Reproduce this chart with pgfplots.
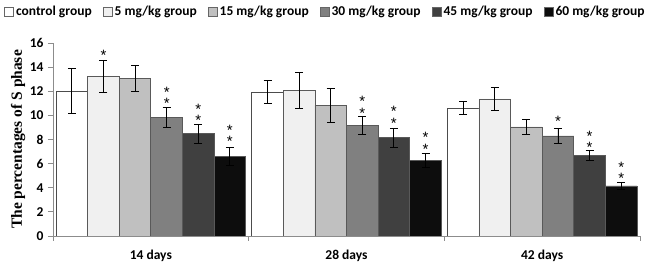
\documentclass[border=0pt]{standalone}
\usepackage{fontspec}
\setmainfont{Carlito}
\newfontfamily\ylabfont{Liberation Serif}
\newfontfamily\starfont{Liberation Sans}
\usepackage{pgfplots}
\pgfplotsset{compat=1.18}
\usepackage{pgfplotstable}

\pgfplotstableread{
x y e
0 12.00 1.87
1 11.91 0.95
2 10.59 0.55
}\ctrl
\pgfplotstableread{
x y e
0 13.22 1.30
1 12.08 1.47
2 11.36 0.92
}\mgA
\pgfplotstableread{
x y e
0 13.05 1.05
1 10.84 1.42
2 9.04 0.60
}\mgB
\pgfplotstableread{
x y e
0 9.81 0.83
1 9.15 0.74
2 8.29 0.65
}\mgC
\pgfplotstableread{
x y e
0 8.48 0.80
1 8.15 0.80
2 6.66 0.40
}\mgD
\pgfplotstableread{
x y e
0 6.58 0.77
1 6.24 0.58
2 4.15 0.30
}\mgE

\definecolor{cA}{HTML}{FFFFFF}
\definecolor{cB}{HTML}{F0F0F0}
\definecolor{cC}{HTML}{C0C0C0}
\definecolor{cD}{HTML}{808080}
\definecolor{cE}{HTML}{404040}
\definecolor{cF}{HTML}{0D0D0D}

\tikzset{starnode/.style={font=\starfont\fontsize{15}{8.6}\selectfont, inner sep=0pt, align=center, yshift=-3.4pt}}
\newcommand{\st}[2]{\node[starnode] at (axis cs:#1,#2) {*};}
\newcommand{\sst}[2]{\node[starnode] at (axis cs:#1,#2) {*\\*};}

\begin{document}
\begin{tikzpicture}[x=1pt,y=1pt]
\begin{axis}[
  scale only axis,
  width=587pt, height=193pt,
  ybar=0pt, bar width=0.1615,
  xmin=-0.5, xmax=2.5,
  ymin=0, ymax=16,
  axis x line*=bottom, axis y line*=left,
  axis line style={black!45, line width=0.8pt},
  xtick={0,1,2},
  xticklabels={14 days,28 days,42 days},
  major x tick style={draw=none},
  minor xtick={-0.5,0.5,1.5,2.5},
  minor x tick style={black!45, line width=0.8pt},
  minor tick length=5pt,
  ytick={0,2,...,16},
  major y tick style={black!45, line width=0.8pt},
  major tick length=5pt,
  tick align=outside,
  /pgf/number format/assume math mode=true,
  ticklabel style={font=\bfseries\fontsize{13.5}{14}\selectfont},
  yticklabel style={xshift=-1pt},
  xticklabel style={yshift=-5pt},
  ylabel={\ylabfont\bfseries\fontsize{15.5}{16}\selectfont The percentages of S phase},
  ylabel style={at={(axis description cs:-0.0595,0.5)}, anchor=center},
  every axis plot/.append style={draw=black!65, line width=0.7pt},
  error bars/error bar style={black, line width=0.9pt},
  error bars/error mark options={rotate=90, mark size=4pt, black, line width=0.9pt},
  legend columns=6,
  legend style={draw=none, fill=none, at={(axis description cs:0.5,1)}, anchor=center, xshift=-21pt, yshift=31pt,
    font=\bfseries\fontsize{13.5}{14}\selectfont, inner sep=0pt,
    /tikz/every even column/.append style={column sep=9.3pt}},
  legend image code/.code={\draw[#1, draw=black!60, line width=0.6pt] (0pt,-4.5pt) rectangle (9pt,4.5pt);},
]
\addplot[fill=cA, draw=black!70, error bars/.cd, y dir=both, y explicit] table[x=x,y=y,y error=e] {\ctrl};
\addplot[fill=cB, error bars/.cd, y dir=both, y explicit] table[x=x,y=y,y error=e] {\mgA};
\addplot[fill=cC, error bars/.cd, y dir=both, y explicit] table[x=x,y=y,y error=e] {\mgB};
\addplot[fill=cD, error bars/.cd, y dir=both, y explicit] table[x=x,y=y,y error=e] {\mgC};
\addplot[fill=cE, error bars/.cd, y dir=both, y explicit] table[x=x,y=y,y error=e] {\mgD};
\addplot[fill=cF, error bars/.cd, y dir=both, y explicit] table[x=x,y=y,y error=e] {\mgE};
\legend{control group, 5 mg/kg group, 15 mg/kg group, 30 mg/kg group, 45 mg/kg group, 60 mg/kg group}
% stars
\st{-0.242}{15.30}
\sst{0.081}{11.75}
\sst{0.242}{10.30}
\sst{0.404}{8.58}
\sst{1.081}{10.95}
\sst{1.242}{10.11}
\sst{1.404}{7.95}
\st{2.081}{9.76}
\sst{2.242}{8.06}
\sst{2.404}{5.50}
\coordinate (O) at (rel axis cs:0,0);
\end{axis}
\pgfresetboundingbox
\path (O) ++(-53pt,-28pt) rectangle ++(650pt,264pt);
\end{tikzpicture}
\end{document}
